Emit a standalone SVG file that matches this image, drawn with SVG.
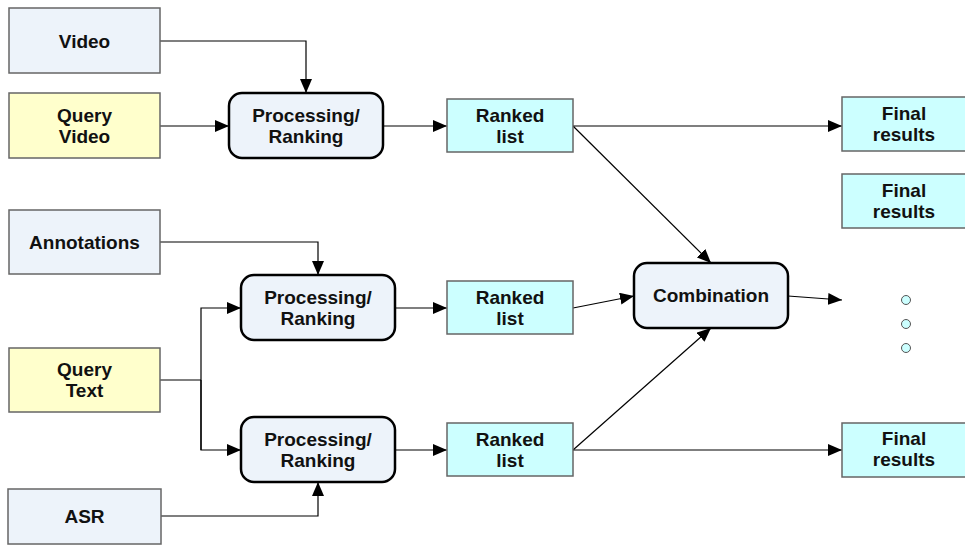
<svg xmlns="http://www.w3.org/2000/svg" width="965" height="545" viewBox="0 0 965 545">
<style>
text{font-family:"Liberation Sans",Arial,sans-serif;font-weight:bold;font-size:19px;fill:#111;text-anchor:middle}
.src{fill:#EDF3FA;stroke:#666;stroke-width:1.5}
.qry{fill:#FFFFCC;stroke:#666;stroke-width:1.5}
.out{fill:#CCFFFF;stroke:#666;stroke-width:1.5}
.proc{fill:#EDF3FA;stroke:#000;stroke-width:2.5}
.c{fill:none;stroke:#000;stroke-width:1.2}
.g{fill:none;stroke:#555;stroke-width:1.2}
</style>
<defs>
<marker id="ah" viewBox="0 0 14 12" refX="14" refY="6" markerWidth="14" markerHeight="12" markerUnits="userSpaceOnUse" orient="auto">
<path d="M0,0L14,6L0,12z" fill="#000"/>
</marker>
</defs>
<g id="connectors">
<path class="c" d="M160,41H306V93" marker-end="url(#ah)"/>
<path class="c" d="M160,126H229" marker-end="url(#ah)"/>
<path class="c" d="M383,126H447" marker-end="url(#ah)"/>
<path class="c" d="M573,126H842" marker-end="url(#ah)"/>
<path class="c" d="M573,126L711,263" marker-end="url(#ah)"/>
<path class="c" d="M160,242H318V275" marker-end="url(#ah)"/>
<path class="c" d="M160,380H201"/>
<path class="c" d="M201,450V308H241" marker-end="url(#ah)"/>
<path class="c" d="M201,380V450H241" marker-end="url(#ah)"/>
<path class="c" d="M161,516H318V482" marker-end="url(#ah)"/>
<path class="c" d="M395,308H447" marker-end="url(#ah)"/>
<path class="c" d="M395,450H447" marker-end="url(#ah)"/>
<path class="c" d="M573,308L634,296" marker-end="url(#ah)"/>
<path class="c" d="M573,450L711,328" marker-end="url(#ah)"/>
<path class="c" d="M573,450H842" marker-end="url(#ah)"/>
<path class="c" d="M788,296L842,300" marker-end="url(#ah)"/>
</g>
<g id="video"><rect class="src" x="9" y="8" width="151" height="65"/><text x="84.5" y="48">Video</text></g>
<g id="query-video"><rect class="qry" x="9" y="93" width="151" height="65"/><text x="84.5" y="122">Query</text><text x="84.5" y="143">Video</text></g>
<g id="proc1"><rect class="proc" x="229" y="93" width="154" height="65" rx="13"/><text x="306" y="122">Processing/</text><text x="306" y="143">Ranking</text></g>
<g id="ranked1"><rect class="out" x="447" y="99" width="126" height="53"/><text x="510" y="122">Ranked</text><text x="510" y="143">list</text></g>
<g id="final1"><rect class="out" x="842" y="97" width="125" height="54"/><text x="904" y="120">Final</text><text x="904" y="141">results</text></g>
<g id="final2"><rect class="out" x="842" y="174" width="125" height="54"/><text x="904" y="197">Final</text><text x="904" y="218">results</text></g>
<g id="annotations"><rect class="src" x="9" y="210" width="151" height="64"/><text x="84.5" y="249">Annotations</text></g>
<g id="proc2"><rect class="proc" x="241" y="275" width="154" height="65" rx="13"/><text x="318" y="304">Processing/</text><text x="318" y="325">Ranking</text></g>
<g id="ranked2"><rect class="out" x="447" y="281" width="126" height="53"/><text x="510" y="304">Ranked</text><text x="510" y="325">list</text></g>
<g id="combination"><rect class="proc" x="634" y="263" width="154" height="65" rx="13"/><text x="711" y="302">Combination</text></g>
<g id="dots">
<circle cx="906" cy="300" r="4.5" fill="#CCFFFF" stroke="#555" stroke-width="1"/>
<circle cx="906" cy="324" r="4.5" fill="#CCFFFF" stroke="#555" stroke-width="1"/>
<circle cx="906" cy="348" r="4.5" fill="#CCFFFF" stroke="#555" stroke-width="1"/>
</g>
<g id="query-text"><rect class="qry" x="9" y="348" width="151" height="64"/><text x="84.5" y="376">Query</text><text x="84.5" y="397">Text</text></g>
<g id="proc3"><rect class="proc" x="241" y="417" width="154" height="65" rx="13"/><text x="318" y="446">Processing/</text><text x="318" y="467">Ranking</text></g>
<g id="ranked3"><rect class="out" x="447" y="423" width="126" height="53"/><text x="510" y="446">Ranked</text><text x="510" y="467">list</text></g>
<g id="final3"><rect class="out" x="842" y="423" width="125" height="54"/><text x="904" y="445">Final</text><text x="904" y="466">results</text></g>
<g id="asr"><rect class="src" x="8" y="489" width="153" height="55"/><text x="84.5" y="523">ASR</text></g>
</svg>
